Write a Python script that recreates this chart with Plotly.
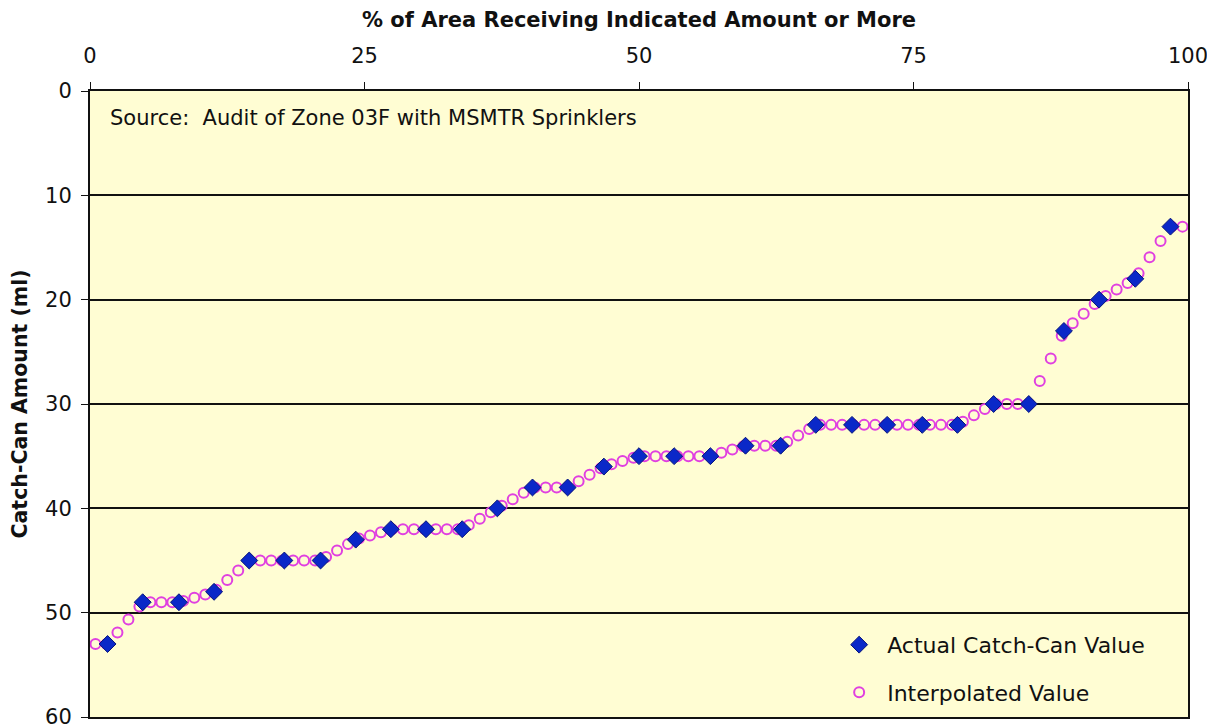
import plotly.graph_objects as go

# actual catch-can readings, ranked (x = % of area, y = ml)
actual_pct = [1.6, 4.8, 8.1, 11.3, 14.5, 17.7, 21.0, 24.2, 27.4, 30.6,
              33.9, 37.1, 40.3, 43.5, 46.8, 50.0, 53.2, 56.5, 59.7, 62.9,
              66.1, 69.4, 72.6, 75.8, 79.0, 82.3, 85.5, 88.7, 91.9, 95.2, 98.4]
actual_ml = [53, 49, 49, 48, 45, 45, 45, 43, 42, 42,
             42, 40, 38, 38, 36, 35, 35, 35, 34, 34,
             32, 32, 32, 32, 32, 30, 30, 23, 20, 18, 13]

# interpolated values, every 1% of area
interp_pct = [0.5, 1.5, 2.5, 3.5, 4.5, 5.5, 6.5, 7.5, 8.5, 9.5,
              10.5, 11.5, 12.5, 13.5, 14.5, 15.5, 16.5, 17.5, 18.5, 19.5,
              20.5, 21.5, 22.5, 23.5, 24.5, 25.5, 26.5, 27.5, 28.5, 29.5,
              30.5, 31.5, 32.5, 33.5, 34.5, 35.5, 36.5, 37.5, 38.5, 39.5,
              40.5, 41.5, 42.5, 43.5, 44.5, 45.5, 46.5, 47.5, 48.5, 49.5,
              50.5, 51.5, 52.5, 53.5, 54.5, 55.5, 56.5, 57.5, 58.5, 59.5,
              60.5, 61.5, 62.5, 63.5, 64.5, 65.5, 66.5, 67.5, 68.5, 69.5,
              70.5, 71.5, 72.5, 73.5, 74.5, 75.5, 76.5, 77.5, 78.5, 79.5,
              80.5, 81.5, 82.5, 83.5, 84.5, 85.5, 86.5, 87.5, 88.5, 89.5,
              90.5, 91.5, 92.5, 93.5, 94.5, 95.5, 96.5, 97.5, 98.5, 99.5]
interp_ml = [53, 53, 51.9, 50.66, 49.42, 49, 49, 49, 48.87, 48.56,
             48.25, 47.81, 46.88, 45.95, 45.01, 45, 45, 45, 45, 45,
             45, 44.67, 44.05, 43.43, 42.9, 42.6, 42.29, 42, 42, 42,
             42, 42, 42, 42, 41.61, 40.99, 40.37, 39.75, 39.13, 38.51,
             38, 38, 38, 38, 37.41, 36.79, 36.17, 35.78, 35.47, 35.16,
             35, 35, 35, 35, 35, 35, 34.98, 34.68, 34.37, 34.06,
             34, 34, 34, 33.63, 33.01, 32.39, 32, 32, 32, 32,
             32, 32, 32, 32, 32, 32, 32, 32, 32, 31.71,
             31.09, 30.47, 30, 30, 30, 29.97, 27.8, 25.63, 23.46, 22.27,
             21.34, 20.41, 19.65, 19.03, 18.41, 17.48, 15.93, 14.38, 13, 13]

x_ticks = [0, 25, 50, 75, 100]
y_ticks = [0, 10, 20, 30, 40, 50, 60]

font = "DejaVu Sans, Verdana, sans-serif"

fig = go.Figure()
fig.add_trace(go.Scatter(
    x=interp_pct, y=interp_ml, mode="markers", name="Interpolated Value",
    legendgroup="b", legendrank=2,
    marker=dict(symbol="circle-open", size=10, color="#E040E0", line=dict(width=2, color="#E040E0")),
))
fig.add_trace(go.Scatter(
    x=actual_pct, y=actual_ml, mode="markers", name="Actual Catch-Can Value",
    legendgroup="a", legendrank=1,
    marker=dict(symbol="diamond", size=13, color="#0A28C8", line=dict(width=1, color="#06147A")),
))

fig.add_annotation(
    text="Source:\u00a0\u00a0Audit of Zone 03F with MSMTR Sprinklers",
    xref="paper", yref="paper", x=0.016, y=0.957, xanchor="left", yanchor="middle",
    showarrow=False, font=dict(family=font, size=21, color="#111111"),
)

fig.update_layout(
    width=1215, height=727,
    margin=dict(l=82, r=35, t=83, b=18),
    paper_bgcolor="white",
    plot_bgcolor="#FFFDD3",
    font=dict(family=font, size=21, color="#111111"),
    showlegend=True,
    legend=dict(
        x=0.675, y=0.005, xanchor="left", yanchor="bottom",
        bgcolor="rgba(0,0,0,0)", borderwidth=0, itemwidth=46,
        traceorder="grouped", tracegroupgap=16,
        font=dict(family=font, size=22, color="#111111"),
    ),
    xaxis=dict(
        side="top", range=[0, 100], tickvals=x_ticks, automargin=False,
        showline=True, linecolor="#111111", linewidth=2, mirror=True,
        ticks="outside", ticklen=7, tickcolor="#111111", tickwidth=1,
        ticklabelstandoff=11,
        showgrid=False, zeroline=False,
        title=dict(text="<b>% of Area Receiving Indicated Amount or More</b>",
                   font=dict(family=font, size=21), standoff=15),
    ),
    yaxis=dict(
        range=[60, 0], tickvals=y_ticks, automargin=False,
        showline=True, linecolor="#111111", linewidth=2, mirror=True,
        ticks="outside", ticklen=7, tickcolor="#111111", tickwidth=1,
        ticklabelstandoff=5,
        showgrid=True, gridcolor="#111111", gridwidth=2, zeroline=False,
        title=dict(text="<b>Catch-Can Amount (ml)</b>",
                   font=dict(family=font, size=20.5), standoff=14),
    ),
)

fig.write_html("out.html")
